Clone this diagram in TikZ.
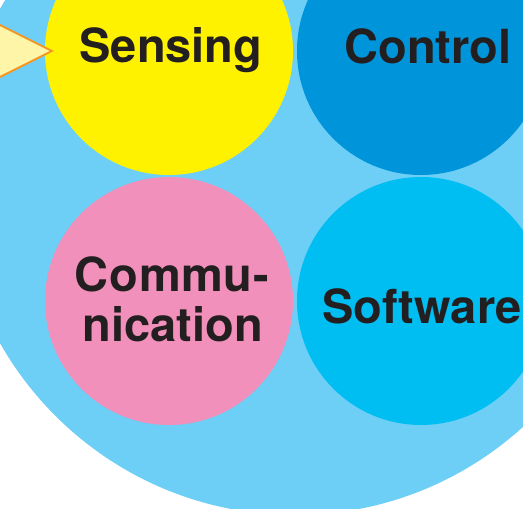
\documentclass[tikz,border=0pt]{standalone}
\usepackage{fontspec}
\setmainfont{TeX Gyre Heros}
\definecolor{ringblue}{HTML}{6DCFF6}
\definecolor{senseyellow}{HTML}{FFF200}
\definecolor{controlblue}{HTML}{0095DA}
\definecolor{commpink}{HTML}{F190BA}
\definecolor{softcyan}{HTML}{00BEF2}
\definecolor{arrowfill}{HTML}{FFF5A8}
\definecolor{arrowline}{HTML}{F7941D}
\definecolor{inkdark}{HTML}{231F20}
\tikzset{
  bubble/.style={circle, minimum size=248pt, inner sep=0pt},
  bubbletext/.style={text=inkdark, font=\fontsize{47}{50}\selectfont\bfseries, inner sep=0pt, anchor=base}
}
\begin{document}
\begin{tikzpicture}[x=1pt,y=1pt]
\useasboundingbox (0,0) rectangle (523,509);
\clip (0,0) rectangle (523,509);
\fill[ringblue] (295,333) circle (339);
\node[bubble, fill=senseyellow] (sensing) at (169,458) {};
\node[bubble, fill=controlblue] (control) at (421,458) {};
\node[bubble, fill=commpink] (comm) at (169,208) {};
\node[bubble, fill=softcyan] (software) at (421,208) {};
\node[bubbletext] (sensinglbl) at ([xshift=2pt,yshift=-12pt]sensing.center) {Sensing};
\node[bubbletext] (controllbl) at ([xshift=7pt,yshift=-13pt]control.center) {Control};
\node[bubbletext] (commlbl1) at ([xshift=3pt,yshift=9pt]comm.center) {\addfontfeature{LetterSpace=1.5}Commu-};
\node[bubbletext] (commlbl2) at ([xshift=4pt,yshift=-41pt]comm.center) {nication};
\node[bubbletext] (softwarelbl) at ([xshift=1pt,yshift=-23pt]software.center) {Software};
\coordinate (tip) at ([xshift=7pt]sensing.west);
\draw[fill=arrowfill, draw=arrowline, line width=1.8pt, line join=miter] (tip) -- ++(-82,41) -- ++(0,-82) -- cycle;
\end{tikzpicture}
\end{document}
